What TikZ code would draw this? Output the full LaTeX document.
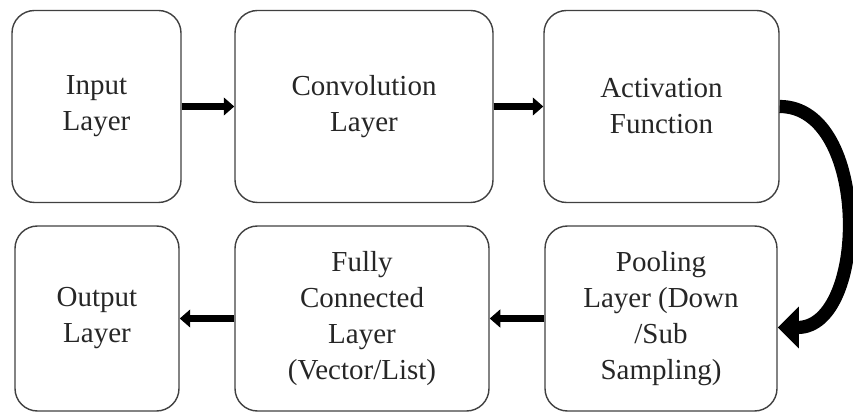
\documentclass[tikz,border=0pt]{standalone}
\usepackage{fontspec}
\setmainfont{Liberation Serif}
\usetikzlibrary{arrows.meta}

\begin{document}
\begin{tikzpicture}[line join=round,
  schicht/.style={draw=black!75,line width=0.8pt,rounded corners=0.45cm,align=center,inner sep=0pt,text=black!85,font=\fontsize{16.5}{20.5}\selectfont},
  pfeil/.style={line width=4.5pt,-{Triangle[width=10pt,length=6pt]}},
  bogen/.style={line width=7.5pt,-{Triangle[width=23pt,length=12pt]}}]
\useasboundingbox (0,0) rectangle (17.06,8.26);

%Schichten oben
\node[schicht,minimum width=3.38cm,minimum height=3.84cm] (input) at (1.93,6.13) {Input\\Layer};
\node[schicht,minimum width=5.16cm,minimum height=3.84cm] (conv) at (7.28,6.13) {Convolution\\Layer};
\node[schicht,minimum width=4.7cm,minimum height=3.84cm] (act) at (13.23,6.13) {Activation\\Function};

%Schichten unten
\node[schicht,minimum width=3.28cm,minimum height=3.7cm] (output) at (1.94,1.89) {Output\\Layer};
\node[schicht,minimum width=5.08cm,minimum height=3.7cm] (fc) at (7.24,1.89) {Fully\\Connected\\Layer\\(Vector/List)};
\node[schicht,minimum width=4.64cm,minimum height=3.7cm] (pool) at (13.22,1.89) {Pooling\\Layer (Down\\/Sub\\Sampling)};

%Pfeile
\draw[pfeil] (input) -- (conv);
\draw[pfeil] (conv) -- (act);
\draw[pfeil] (pool) -- (fc);
\draw[pfeil] (fc) -- (output);
\draw[bogen] (act.east) to[out=0,in=0,looseness=1.05] ([yshift=-0.18cm]pool.east);

\end{tikzpicture}
\end{document}
